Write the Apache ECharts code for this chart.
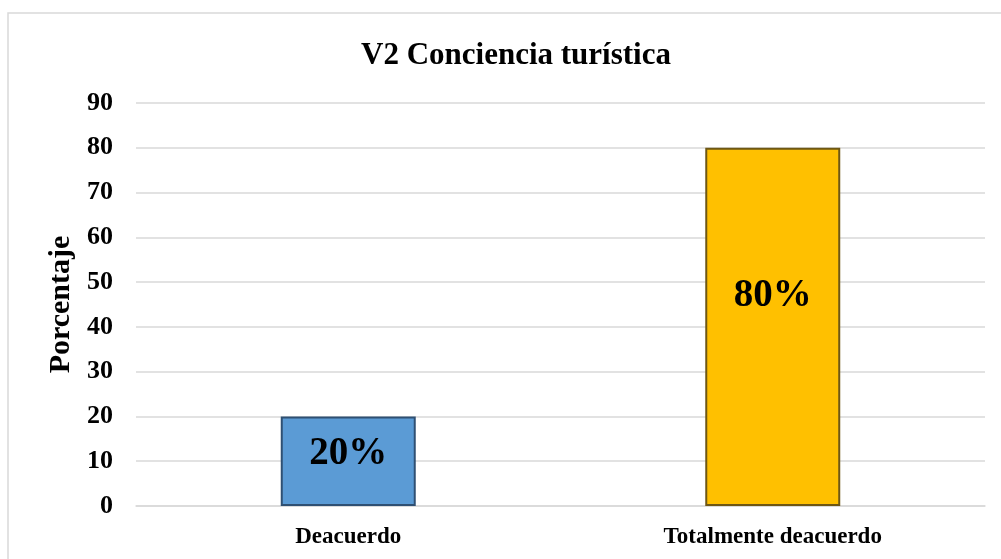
<!DOCTYPE html>
<html>
<head>
<meta charset="utf-8">
<script src="https://cdn.jsdelivr.net/npm/echarts@6/dist/echarts.min.js"></script>
<style>
  html, body { margin: 0; padding: 0; background: #fff; }
  #chart { width: 1001px; height: 559px; }
</style>
</head>
<body>
<div id="chart"></div>
<script>
// datos
const categorias = ['Deacuerdo', 'Totalmente deacuerdo']
const porcentajes = [20, 80]
const colores = ['#5B9BD5', '#FFC000']
const bordes = ['#2F5073', '#6E5714']
const desplazamientos = [-7, -31]

const fuente = '"Liberation Serif", "Times New Roman", serif'

let myChart = echarts.init(document.getElementById('chart'))

let datos = porcentajes.map((v, i) => {
  return {
    value: v,
    itemStyle: { color: colores[i], borderColor: bordes[i], borderWidth: 2 },
    label: { offset: [0, desplazamientos[i]] }
  }
})

myChart.setOption({
  animation: false,
  title: {
    text: 'V2 Conciencia turística',
    left: 511,
    top: 35,
    textAlign: 'center',
    textStyle: { fontFamily: fuente, fontWeight: 'bold', fontSize: 31, color: '#000' }
  },
  graphic: [
    {
      type: 'rect',
      shape: { x: 8, y: 13, width: 1100, height: 600 },
      style: { fill: 'none', stroke: '#d9d9d9', lineWidth: 1.5 },
      silent: true
    }
  ],
  grid: { left: 136, right: 16, top: 103, bottom: 53 },
  xAxis: {
    type: 'category',
    data: categorias,
    axisLine: { lineStyle: { color: '#d9d9d9', width: 1.5 } },
    axisTick: { show: false },
    axisLabel: {
      margin: 20,
      fontFamily: fuente,
      fontWeight: 'bold',
      fontSize: 23,
      color: '#000'
    }
  },
  yAxis: {
    type: 'value',
    min: 0,
    max: 90,
    interval: 10,
    name: 'Porcentaje',
    nameLocation: 'middle',
    nameGap: 60,
    nameTextStyle: { fontFamily: fuente, fontWeight: 'bold', fontSize: 30, color: '#000' },
    axisLine: { show: false },
    axisTick: { show: false },
    splitLine: { lineStyle: { color: '#d9d9d9', width: 1.5 } },
    axisLabel: {
      margin: 23,
      padding: [5, 0, 0, 0],
      fontFamily: fuente,
      fontWeight: 'bold',
      fontSize: 26,
      color: '#000'
    }
  },
  series: [
    {
      type: 'bar',
      barWidth: '31.8%',
      data: datos,
      label: {
        show: true,
        position: 'inside',
        formatter: '{c}%',
        fontFamily: fuente,
        fontWeight: 'bold',
        fontSize: 39,
        color: '#000'
      }
    }
  ]
})
</script>
</body>
</html>
